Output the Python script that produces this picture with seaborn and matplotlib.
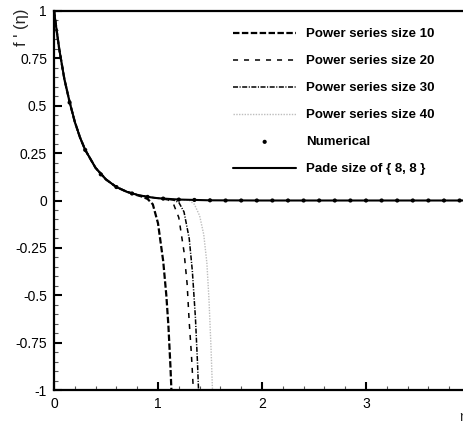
import matplotlib
matplotlib.use("Agg")
import matplotlib.pyplot as plt
import seaborn as sns
import numpy as np
import pandas as pd
from matplotlib.ticker import MultipleLocator

# ---- data ----
eta_pade = [0, 0.05, 0.1, 0.15, 0.2, 0.25, 0.3, 0.4, 0.5, 0.6, 0.7, 0.8, 0.9, 1.0, 1.2, 1.5, 2.0, 3.0, 4.2]
fp_pade = [1, 0.80, 0.64, 0.52, 0.415, 0.333, 0.267, 0.172, 0.111, 0.071, 0.046, 0.030, 0.019, 0.012, 0.005, 0.001, 0, 0, 0]

eta_num = [0, 0.15, 0.3, 0.45, 0.6, 0.75, 0.9, 1.05, 1.2, 1.35, 1.5, 1.65, 1.8, 1.95, 2.1, 2.25,
           2.4, 2.55, 2.7, 2.85, 3.0, 3.15, 3.3, 3.45, 3.6, 3.75, 3.9]
fp_num = [1, 0.517, 0.267, 0.138, 0.071, 0.037, 0.019, 0.010, 0.005, 0.003, 0.001, 0, 0, 0, 0, 0,
          0, 0, 0, 0, 0, 0, 0, 0, 0, 0, 0]

eta_ps10 = [0, 0.05, 0.1, 0.15, 0.2, 0.25, 0.3, 0.4, 0.5, 0.6, 0.7, 0.8, 0.85, 0.9, 0.95, 1.0, 1.05, 1.08, 1.1, 1.12, 1.14]
fp_ps10 = [1, 0.80, 0.64, 0.52, 0.415, 0.333, 0.267, 0.172, 0.111, 0.071, 0.046, 0.028, 0.020, 0.008, -0.02, -0.12, -0.32, -0.50, -0.66, -0.88, -1.15]

eta_ps20 = [0, 0.05, 0.1, 0.15, 0.2, 0.25, 0.3, 0.4, 0.5, 0.6, 0.7, 0.8, 0.9, 1.0, 1.1, 1.15, 1.2, 1.25, 1.28, 1.3, 1.32, 1.34, 1.36]
fp_ps20 = [1, 0.80, 0.64, 0.52, 0.415, 0.333, 0.267, 0.172, 0.111, 0.071, 0.046, 0.030, 0.019, 0.012, 0.003, -0.02, -0.09, -0.27, -0.44, -0.64, -0.80, -1.0, -1.25]

eta_ps30 = [0, 0.05, 0.1, 0.15, 0.2, 0.25, 0.3, 0.4, 0.5, 0.6, 0.7, 0.8, 0.9, 1.0, 1.1, 1.15, 1.2, 1.25, 1.3, 1.33, 1.36, 1.38, 1.40]
fp_ps30 = [1, 0.80, 0.64, 0.52, 0.415, 0.333, 0.267, 0.172, 0.111, 0.071, 0.046, 0.030, 0.019, 0.012, 0.006, 0.002, -0.01, -0.06, -0.20, -0.37, -0.62, -0.86, -1.15]

eta_ps40 = [0, 0.05, 0.1, 0.15, 0.2, 0.25, 0.3, 0.4, 0.5, 0.6, 0.7, 0.8, 0.9, 1.0, 1.2, 1.3, 1.35, 1.4, 1.44, 1.47, 1.49, 1.51, 1.53]
fp_ps40 = [1, 0.80, 0.64, 0.52, 0.415, 0.333, 0.267, 0.172, 0.111, 0.071, 0.046, 0.030, 0.019, 0.012, 0.005, 0.001, -0.02, -0.08, -0.18, -0.33, -0.52, -0.78, -1.1]

labels = ["Power series size 10", "Power series size 20", "Power series size 30",
          "Power series size 40", "Numerical", "Pade size of { 8, 8 }"]
xticks = [0, 1, 2, 3]
xticklabels = ["0", "1", "2", "3"]
yticks = [-1, -0.75, -0.5, -0.25, 0, 0.25, 0.5, 0.75, 1]
yticklabels = ["-1", "-0.75", "-0.5", "-0.25", "0", "0.25", "0.5", "0.75", "1"]

# ---- figure ----
sns.set_style("ticks")
plt.rcParams['font.family'] = ['Liberation Sans', 'DejaVu Sans']

fig = plt.figure(figsize=(4.64, 4.25), dpi=100)
ax = fig.add_axes([54/464, 35/425, 416/464, 379/425])

common = dict(ax=ax, sort=False, estimator=None)
sns.lineplot(x=eta_ps10, y=fp_ps10, color="black", lw=1.6, linestyle=(0, (2.9, 1.1)), label=labels[0], **common)
sns.lineplot(x=eta_ps20, y=fp_ps20, color="black", lw=1.1, linestyle=(0, (3.3, 3.9)), label=labels[1], **common)
sns.lineplot(x=eta_ps30, y=fp_ps30, color="black", lw=1.1, linestyle=(0, (3.3, 1.0, 0.7, 1.0)), label=labels[2], **common)
sns.lineplot(x=eta_ps40, y=fp_ps40, color="#bdbdbd", lw=1.0, linestyle=(0, (1, 1)), label=labels[3], **common)
sns.scatterplot(x=eta_num, y=fp_num, color="black", s=9, marker="o", edgecolor="none", label=labels[4], ax=ax, zorder=5)
sns.lineplot(x=eta_pade, y=fp_pade, color="black", lw=1.5, label=labels[5], **common)

ax.set_xlim(0, 4)
ax.set_ylim(-1, 1)
ax.set_xticks(xticks)
ax.set_xticklabels(xticklabels)
ax.set_yticks(yticks)
ax.set_yticklabels(yticklabels)
ax.xaxis.set_minor_locator(MultipleLocator(0.2))
ax.yaxis.set_minor_locator(MultipleLocator(0.05))
ax.tick_params(which="major", direction="in", length=6, width=1.5, labelsize=10, pad=5, colors="black")
ax.tick_params(which="minor", direction="in", length=3, width=0.8, colors="#555555")
ax.tick_params(top=False, right=False, which="both")
for s in ax.spines.values():
    s.set_linewidth(1.6)
    s.set_color("black")
ax.set_xlabel("")
ax.set_ylabel("")

fig.text(22/464, 1 - 9/425, "f ' (η)", rotation=90, ha="center", va="top", fontsize=12)
fig.text(459/464, 1 - 424/425, "η", ha="left", va="bottom", fontsize=10)

leg = ax.legend(loc="upper left", bbox_to_anchor=(233/464, 1 - 28/425), bbox_transform=fig.transFigure,
                frameon=False, prop={"weight": "bold", "size": 9.5}, handlelength=4.8,
                handletextpad=0.75, labelspacing=1.12, borderpad=0, borderaxespad=0, markerscale=1.0)
for t in leg.get_texts():
    t.set_color("black")

fig.savefig("out.png", dpi=100)
